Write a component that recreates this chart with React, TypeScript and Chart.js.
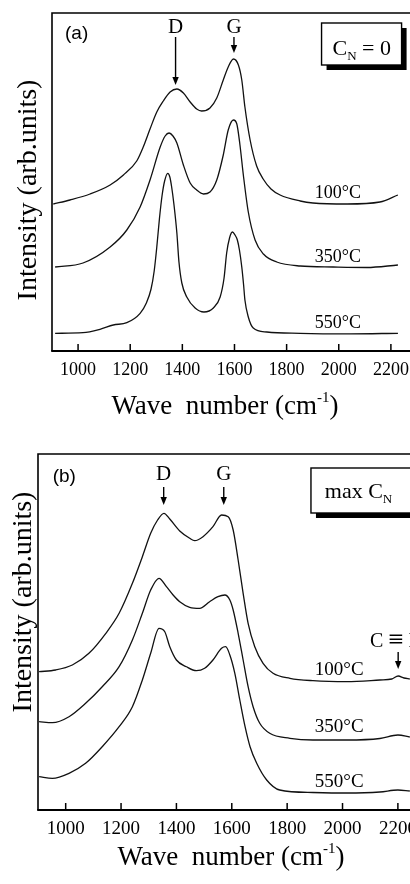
import React, { useEffect, useRef } from "react";
import { Chart, registerables } from "chart.js";

Chart.register(...registerables);

const SERIF = "'Liberation Serif', 'Times New Roman', serif";
const SANS = "'Liberation Sans', Arial, sans-serif";

const X_TICKS = [1000, 1200, 1400, 1600, 1800, 2000, 2200];
const TEMP_LABELS = ["100°C", "350°C", "550°C"];

// ---------- panel (a): C_N = 0 ----------
const waveA100 = [905, 969, 1046, 1123, 1174, 1225, 1250, 1276, 1302, 1327, 1353, 1379, 1404, 1430, 1455, 1474, 1506, 1532, 1557, 1576, 1596, 1615, 1628, 1640, 1660, 1685, 1710, 1740, 1775, 1852, 1901, 2032, 2158, 2227];
const intA100 = [147, 151, 157, 166, 176, 190, 204, 222, 239, 250, 259, 262, 258, 249, 242, 240, 243, 253, 271, 284, 292, 286, 271, 244, 211, 185, 172, 162, 156, 150, 148, 147, 149, 156];

const waveA350 = [912, 1019, 1123, 1187, 1238, 1276, 1315, 1334, 1349, 1364, 1379, 1404, 1430, 1455, 1481, 1506, 1532, 1557, 1576, 1596, 1609, 1621, 1634, 1653, 1679, 1711, 1762, 1852, 1978, 2108, 2227];
const intA350 = [84, 88, 104, 121, 144, 171, 204, 215, 218, 215, 208, 186, 168, 161, 157, 159, 171, 196, 221, 231, 227, 206, 176, 139, 111, 97, 89, 85, 84, 83.5, 86];

const waveA550 = [912, 1019, 1084, 1135, 1187, 1238, 1262, 1280, 1292, 1302, 1312, 1322, 1332, 1344, 1352, 1359, 1368, 1379, 1387, 1398, 1417, 1449, 1483, 1519, 1545, 1560, 1570, 1581, 1592, 1602, 1611, 1619, 1628, 1635, 1640, 1653, 1672, 1724, 1852, 2043, 2227];
const intA550 = [17.7, 18.3, 21.7, 26, 28.3, 37.7, 48, 62, 80, 104, 132, 155, 170, 177.7, 174, 164, 146, 118, 89, 68, 54, 43, 39, 43, 54, 73, 98, 113, 119, 116, 111, 101, 84, 66, 51, 34, 23, 19, 17.7, 17.2, 17.7];

// ---------- panel (b): max C_N ----------
const waveB100 = [904, 964, 1024, 1084, 1145, 1193, 1241, 1277, 1307, 1332, 1355, 1376, 1412, 1448, 1466, 1496, 1532, 1563, 1587, 1605, 1623, 1641, 1659, 1683, 1713, 1749, 1810, 1893, 2015, 2135, 2178, 2201, 2222, 2243];
const intB100 = [138.3, 140, 145, 156.7, 176.7, 196.7, 226.7, 253.3, 276.7, 290, 296.7, 291, 279, 271.7, 269.3, 273.3, 283.3, 295, 293.3, 280, 250, 216.7, 186.7, 163.3, 146.7, 136.7, 131.7, 129.3, 128.3, 130, 131, 134, 132, 131];

const waveB350 = [904, 952, 1012, 1072, 1132, 1193, 1241, 1277, 1307, 1337, 1364, 1388, 1412, 1448, 1484, 1520, 1550, 1575, 1593, 1605, 1623, 1641, 1659, 1677, 1701, 1737, 1810, 1893, 2015, 2135, 2200, 2243];
const intB350 = [88.3, 87.3, 93.3, 106.7, 123.3, 143.3, 170, 196.7, 220, 231.7, 223.3, 215, 208.3, 202.7, 201.7, 208.3, 213.3, 215, 210, 200, 176.7, 150, 123.3, 103.3, 86.7, 76.7, 71.7, 70, 70, 71.5, 75, 73];

const waveB550 = [904, 952, 1012, 1072, 1132, 1193, 1241, 1277, 1307, 1337, 1358, 1376, 1400, 1436, 1472, 1502, 1532, 1563, 1578, 1593, 1611, 1629, 1648, 1666, 1690, 1726, 1773, 1893, 2015, 2135, 2200, 2243];
const intB550 = [33.3, 31.7, 36.7, 46.7, 63.3, 83.3, 103.3, 130, 156.7, 181.7, 178.3, 163.3, 150, 143.3, 139.3, 141.7, 150, 161.7, 163.3, 155, 136.7, 110, 83.3, 63.3, 46.7, 30, 20, 17.5, 17, 18, 20, 19];

type Part = { t: string; size: number; dy?: number; font?: string };

type Panel = {
  top: number;
  height: number;
  areaLeft: number;
  areaTop: number;
  areaBottom: number;
  xMin: number;
  xMax: number;
  yMax: number;
  tickFont: number;
  tempFont: number;
  series: [number[], number[]][];
  tag: { text: string; x: number; y: number };
  peaks: { text: string; x: number; yText: number; yFrom: number; yTo: number }[];
  box: { x0: number; x1: number; y0: number; y1: number };
  boxText: { parts: Part[]; x: number; y: number; align: "left" | "center" };
  temps: { x: number; ys: number[] };
  extra?: { parts: Part[]; x: number; y: number; ax: number; yFrom: number; yTo: number };
  yTitle: { x: number; y: number };
  xTitle: { x: number; y: number };
};

const PANELS: Panel[] = [
  {
    top: 0,
    height: 440,
    areaLeft: 52,
    areaTop: 13,
    areaBottom: 351,
    xMin: 900,
    xMax: 2350,
    yMax: 338,
    tickFont: 18,
    tempFont: 18,
    series: [
      [waveA100, intA100],
      [waveA350, intA350],
      [waveA550, intA550],
    ],
    tag: { text: "(a)", x: 950, y: 317.5 },
    peaks: [
      { text: "D", x: 1374, yText: 318, yFrom: 314, yTo: 266 },
      { text: "G", x: 1598, yText: 318, yFrom: 314, yTo: 298 },
    ],
    box: { x0: 1934, x1: 2241, y0: 328, y1: 286 },
    boxText: {
      parts: [
        { t: "C", size: 22 },
        { t: "N", size: 13, dy: 5 },
        { t: " = 0", size: 22 },
      ],
      x: 2088,
      y: 296,
      align: "center",
    },
    temps: { x: 1908, ys: [153, 89, 23] },
    yTitle: { x: 29, y: 190 },
    xTitle: { x: 225, y: 414 },
  },
  {
    top: 440,
    height: 444,
    areaLeft: 38,
    areaTop: 14,
    areaBottom: 370,
    xMin: 900,
    xMax: 2316,
    yMax: 356,
    tickFont: 19,
    tempFont: 19,
    series: [
      [waveB100, intB100],
      [waveB350, intB350],
      [waveB550, intB550],
    ],
    tag: { text: "(b)", x: 953, y: 333.5 },
    peaks: [
      { text: "D", x: 1354, yText: 330, yFrom: 323, yTo: 305 },
      { text: "G", x: 1571, yText: 330, yFrom: 323, yTo: 305 },
    ],
    box: { x0: 1886, x1: 2290, y0: 342, y1: 297 },
    boxText: {
      parts: [
        { t: "max C", size: 22 },
        { t: "N", size: 13, dy: 5 },
      ],
      x: 1936,
      y: 312,
      align: "left",
    },
    temps: { x: 1900, ys: [135, 78, 23] },
    extra: {
      parts: [
        { t: "C ", size: 20 },
        { t: "≡", size: 27, dy: 1 },
        { t: " N", size: 20 },
      ],
      x: 2099,
      y: 163,
      ax: 2201,
      yFrom: 158,
      yTo: 141,
    },
    yTitle: { x: 24, y: 162 },
    xTitle: { x: 231, y: 425 },
  },
];

function drawParts(ctx: CanvasRenderingContext2D, parts: Part[], x: number, y: number, align: "left" | "center") {
  const widths = parts.map((p) => {
    ctx.font = `${p.size}px ${p.font ?? SERIF}`;
    return ctx.measureText(p.t).width;
  });
  const total = widths.reduce((a, b) => a + b, 0);
  let cx = align === "center" ? x - total / 2 : x;
  ctx.textAlign = "left";
  ctx.textBaseline = "alphabetic";
  parts.forEach((p, i) => {
    ctx.font = `${p.size}px ${p.font ?? SERIF}`;
    ctx.fillText(p.t, cx, y + (p.dy ?? 0));
    cx += widths[i];
  });
}

function arrow(ctx: CanvasRenderingContext2D, x: number, y0: number, y1: number) {
  ctx.lineWidth = 1.4;
  ctx.beginPath();
  ctx.moveTo(x, y0);
  ctx.lineTo(x, y1 - 5);
  ctx.stroke();
  ctx.beginPath();
  ctx.moveTo(x - 3.2, y1 - 8);
  ctx.lineTo(x + 3.2, y1 - 8);
  ctx.lineTo(x, y1);
  ctx.closePath();
  ctx.fill();
}

function makeDeco(p: Panel) {
  return {
    id: "deco",
    afterDraw(chart: any) {
      const { ctx, chartArea: a, scales } = chart;
      const X = (v: number) => scales.x.getPixelForValue(v);
      const Y = (v: number) => scales.y.getPixelForValue(v);
      ctx.save();
      ctx.strokeStyle = "#000";
      ctx.fillStyle = "#000";

      // frame
      ctx.lineWidth = 1.6;
      ctx.beginPath();
      ctx.moveTo(a.left, a.bottom);
      ctx.lineTo(a.left, a.top);
      ctx.lineTo(a.right, a.top);
      ctx.stroke();
      ctx.lineWidth = 2.2;
      ctx.beginPath();
      ctx.moveTo(a.left - 0.8, a.bottom);
      ctx.lineTo(a.right, a.bottom);
      ctx.stroke();

      // inner tick marks
      ctx.lineWidth = 1.5;
      X_TICKS.forEach((v) => {
        const px = X(v);
        ctx.beginPath();
        ctx.moveTo(px, a.bottom);
        ctx.lineTo(px, a.bottom - 7);
        ctx.stroke();
      });

      // panel tag
      ctx.font = `19px ${SANS}`;
      ctx.textAlign = "left";
      ctx.textBaseline = "middle";
      ctx.fillText(p.tag.text, X(p.tag.x), Y(p.tag.y));

      // peak markers
      p.peaks.forEach((pk) => {
        ctx.font = `21px ${SERIF}`;
        ctx.textAlign = "center";
        ctx.textBaseline = "alphabetic";
        ctx.fillText(pk.text, X(pk.x), Y(pk.yText));
        arrow(ctx, X(pk.x), Y(pk.yFrom), Y(pk.yTo));
      });

      // boxed label with shadow
      const bx0 = X(p.box.x0), bx1 = X(p.box.x1), by0 = Y(p.box.y0), by1 = Y(p.box.y1);
      ctx.fillRect(bx0 + 5, by0 + 5, bx1 - bx0, by1 - by0);
      ctx.fillStyle = "#fff";
      ctx.fillRect(bx0, by0, bx1 - bx0, by1 - by0);
      ctx.fillStyle = "#000";
      ctx.lineWidth = 1.4;
      ctx.strokeRect(bx0, by0, bx1 - bx0, by1 - by0);
      drawParts(ctx, p.boxText.parts, X(p.boxText.x), Y(p.boxText.y), p.boxText.align);

      // temperature labels
      ctx.font = `${p.tempFont}px ${SERIF}`;
      ctx.textAlign = "left";
      ctx.textBaseline = "alphabetic";
      p.temps.ys.forEach((v, i) => {
        ctx.fillText(TEMP_LABELS[i], X(p.temps.x), Y(v));
      });

      if (p.extra) {
        drawParts(ctx, p.extra.parts, X(p.extra.x), Y(p.extra.y), "left");
        arrow(ctx, X(p.extra.ax), Y(p.extra.yFrom), Y(p.extra.yTo));
      }

      // y title
      ctx.save();
      ctx.translate(p.yTitle.x, p.yTitle.y);
      ctx.rotate(-Math.PI / 2);
      ctx.font = `28px ${SERIF}`;
      ctx.textAlign = "center";
      ctx.textBaseline = "middle";
      ctx.fillText("Intensity (arb.units)", 0, 0);
      ctx.restore();

      // x title
      drawParts(
        ctx,
        [
          { t: "Wave  number (cm", size: 27 },
          { t: "-1", size: 15, dy: -12 },
          { t: ")", size: 27 },
        ],
        p.xTitle.x,
        p.xTitle.y,
        "center"
      );

      ctx.restore();
    },
  };
}

function PanelChart({ p }: { p: Panel }) {
  const ref = useRef<HTMLCanvasElement | null>(null);
  useEffect(() => {
    if (!ref.current) return;
    const chart = new Chart(ref.current, {
      type: "line",
      data: {
        datasets: p.series.map(([xs, ys]) => ({
          data: xs.map((x, i) => ({ x, y: ys[i] })),
          borderColor: "#111",
          borderWidth: 1.3,
          pointRadius: 0,
          fill: false,
          cubicInterpolationMode: "monotone" as const,
        })),
      },
      options: {
        responsive: false,
        animation: false,
        devicePixelRatio: 1,
        layout: { padding: { top: p.areaTop, left: 0, right: 0, bottom: 0 } },
        plugins: { legend: { display: false }, tooltip: { enabled: false } },
        scales: {
          x: {
            type: "linear",
            min: p.xMin,
            max: p.xMax,
            afterBuildTicks: (s: any) => {
              s.ticks = X_TICKS.map((v) => ({ value: v }));
            },
            afterFit: (s: any) => {
              s.height = p.height - p.areaBottom;
            },
            ticks: {
              color: "#000",
              font: { family: SERIF, size: p.tickFont },
              padding: 8,
              maxRotation: 0,
              autoSkip: false,
              callback: (v: any) => String(v),
            },
            grid: { display: false, drawTicks: false },
            border: { display: false },
          },
          y: {
            type: "linear",
            min: 0,
            max: p.yMax,
            afterFit: (s: any) => {
              s.width = p.areaLeft;
            },
            ticks: { display: false },
            grid: { display: false, drawTicks: false },
            border: { display: false },
          },
        },
      },
      plugins: [makeDeco(p)],
    });
    return () => chart.destroy();
  }, [p]);
  return (
    <canvas
      ref={ref}
      width={430}
      height={p.height}
      style={{ position: "absolute", left: 0, top: p.top, width: 430, height: p.height }}
    />
  );
}

export default function App() {
  return (
    <div
      style={{
        position: "absolute",
        left: 0,
        top: 0,
        width: 410,
        height: 884,
        overflow: "hidden",
        background: "#fff",
      }}
    >
      {PANELS.map((p, i) => (
        <PanelChart key={i} p={p} />
      ))}
    </div>
  );
}
